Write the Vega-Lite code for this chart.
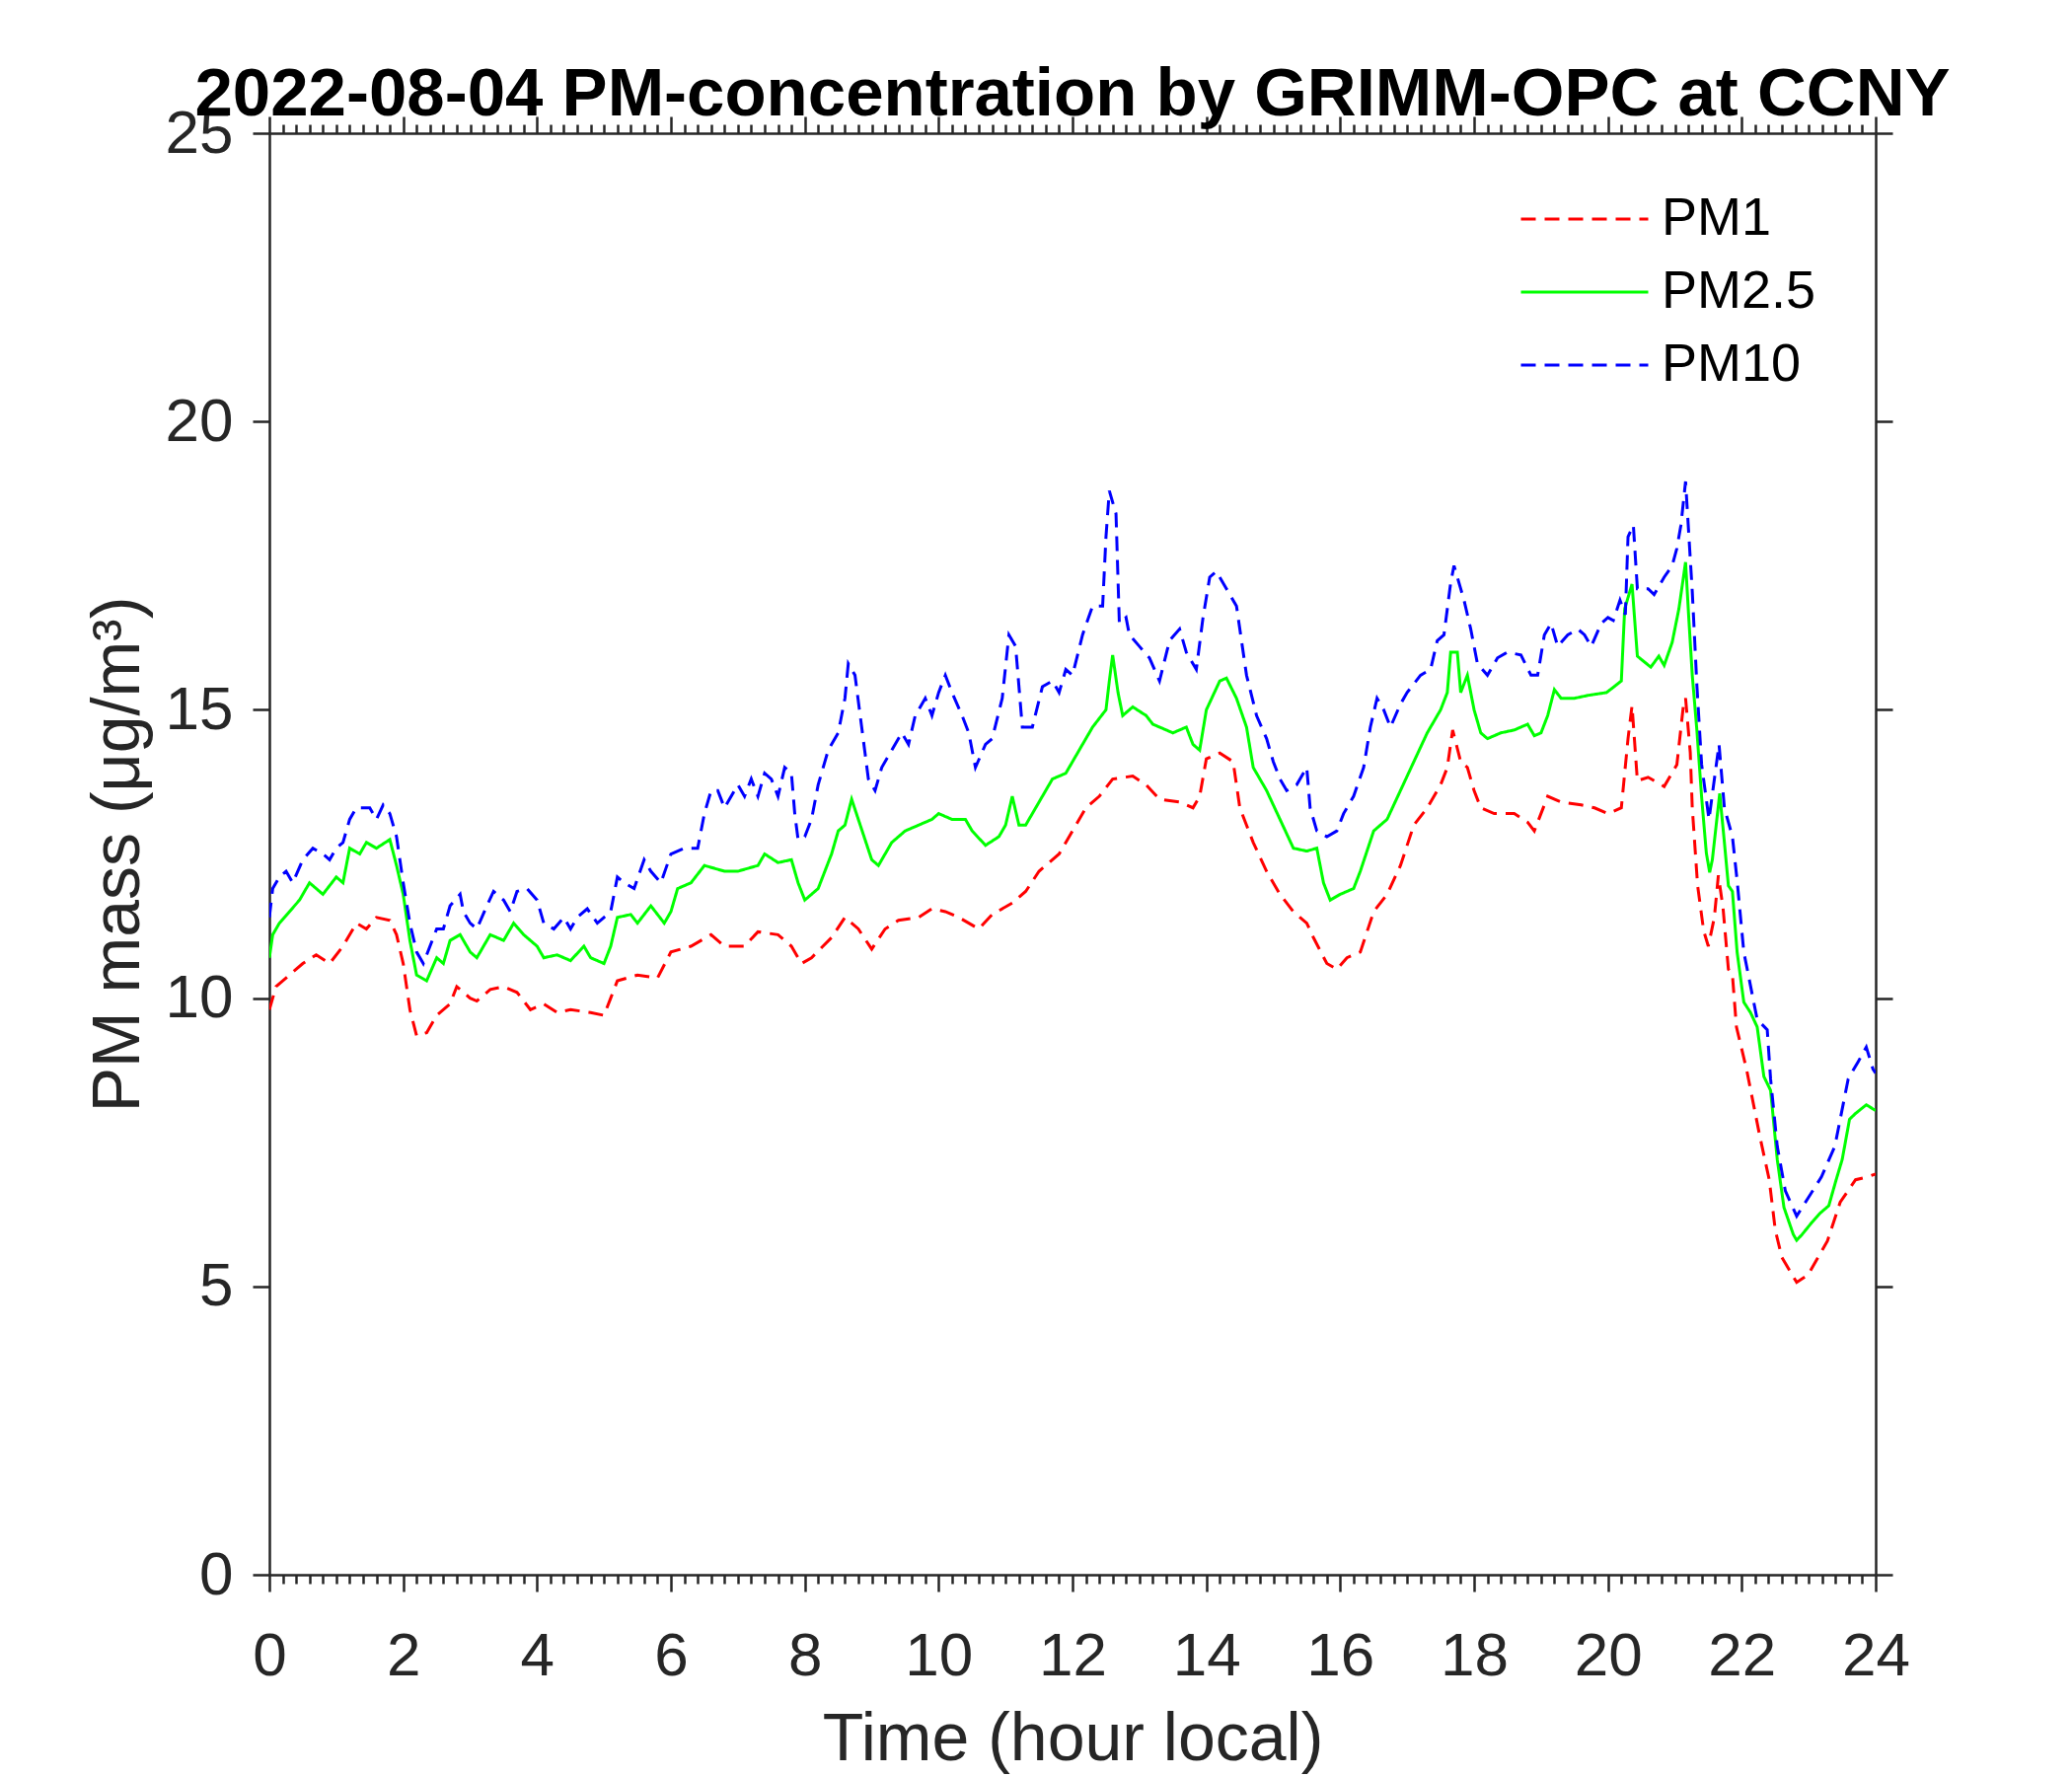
{
  "$schema": "https://vega.github.io/schema/vega-lite/v6.json",
  "width": 1628,
  "height": 1461,
  "autosize": {"type": "none"},
  "padding": {"left": 273, "top": 135, "right": 199, "bottom": 204},
  "background": "white",
  "title": {
    "text": "2022-08-04 PM-concentration by GRIMM-OPC at CCNY",
    "font": "Liberation Sans",
    "fontSize": 69,
    "fontWeight": "bold",
    "color": "black",
    "anchor": "middle",
    "frame": "group",
    "baseline": "alphabetic",
    "offset": -82
  },
  "config": {
    "font": "Liberation Sans",
    "view": {"stroke": null},
    "axis": {
      "grid": false,
      "domainColor": "#262626",
      "domainWidth": 2.5,
      "tickColor": "#262626",
      "tickWidth": 2.5,
      "labelColor": "#262626",
      "labelFont": "Liberation Sans",
      "labelFontSize": 62,
      "titleFont": "Liberation Sans",
      "titleFontSize": 68,
      "titleFontWeight": "normal",
      "titleColor": "#262626",
      "labelFlush": false,
      "labelOverlap": false
    }
  },
  "data": {
    "values": [
      {"t":0,"v":9.8,"s":"PM1"},{"t":0.1,"v":10.2,"s":"PM1"},{"t":0.3,"v":10.4,"s":"PM1"},{"t":0.5,"v":10.6,"s":"PM1"},{"t":0.7,"v":10.75,"s":"PM1"},{"t":0.9,"v":10.6,"s":"PM1"},{"t":1.1,"v":10.9,"s":"PM1"},{"t":1.3,"v":11.3,"s":"PM1"},{"t":1.45,"v":11.2,"s":"PM1"},{"t":1.6,"v":11.4,"s":"PM1"},{"t":1.8,"v":11.35,"s":"PM1"},{"t":1.9,"v":11.1,"s":"PM1"},{"t":2.0,"v":10.6,"s":"PM1"},{"t":2.1,"v":9.8,"s":"PM1"},{"t":2.2,"v":9.35,"s":"PM1"},{"t":2.35,"v":9.4,"s":"PM1"},{"t":2.5,"v":9.7,"s":"PM1"},{"t":2.7,"v":9.9,"s":"PM1"},{"t":2.8,"v":10.2,"s":"PM1"},{"t":3.0,"v":10.0,"s":"PM1"},{"t":3.1,"v":9.95,"s":"PM1"},{"t":3.3,"v":10.15,"s":"PM1"},{"t":3.5,"v":10.2,"s":"PM1"},{"t":3.7,"v":10.1,"s":"PM1"},{"t":3.9,"v":9.8,"s":"PM1"},{"t":4.1,"v":9.9,"s":"PM1"},{"t":4.3,"v":9.75,"s":"PM1"},{"t":4.5,"v":9.8,"s":"PM1"},{"t":4.8,"v":9.75,"s":"PM1"},{"t":5.0,"v":9.7,"s":"PM1"},{"t":5.1,"v":10.0,"s":"PM1"},{"t":5.2,"v":10.3,"s":"PM1"},{"t":5.5,"v":10.4,"s":"PM1"},{"t":5.8,"v":10.35,"s":"PM1"},{"t":6.0,"v":10.8,"s":"PM1"},{"t":6.3,"v":10.9,"s":"PM1"},{"t":6.6,"v":11.1,"s":"PM1"},{"t":6.8,"v":10.9,"s":"PM1"},{"t":7.1,"v":10.9,"s":"PM1"},{"t":7.3,"v":11.15,"s":"PM1"},{"t":7.6,"v":11.1,"s":"PM1"},{"t":7.8,"v":10.9,"s":"PM1"},{"t":7.95,"v":10.6,"s":"PM1"},{"t":8.1,"v":10.7,"s":"PM1"},{"t":8.4,"v":11.05,"s":"PM1"},{"t":8.6,"v":11.4,"s":"PM1"},{"t":8.8,"v":11.2,"s":"PM1"},{"t":9.0,"v":10.85,"s":"PM1"},{"t":9.2,"v":11.2,"s":"PM1"},{"t":9.4,"v":11.35,"s":"PM1"},{"t":9.7,"v":11.4,"s":"PM1"},{"t":9.9,"v":11.55,"s":"PM1"},{"t":10.1,"v":11.5,"s":"PM1"},{"t":10.3,"v":11.4,"s":"PM1"},{"t":10.6,"v":11.2,"s":"PM1"},{"t":10.8,"v":11.45,"s":"PM1"},{"t":11.1,"v":11.65,"s":"PM1"},{"t":11.3,"v":11.85,"s":"PM1"},{"t":11.5,"v":12.2,"s":"PM1"},{"t":11.8,"v":12.5,"s":"PM1"},{"t":12.0,"v":12.9,"s":"PM1"},{"t":12.2,"v":13.3,"s":"PM1"},{"t":12.4,"v":13.5,"s":"PM1"},{"t":12.6,"v":13.8,"s":"PM1"},{"t":12.9,"v":13.85,"s":"PM1"},{"t":13.1,"v":13.7,"s":"PM1"},{"t":13.3,"v":13.45,"s":"PM1"},{"t":13.6,"v":13.4,"s":"PM1"},{"t":13.8,"v":13.3,"s":"PM1"},{"t":13.9,"v":13.5,"s":"PM1"},{"t":14.0,"v":14.15,"s":"PM1"},{"t":14.2,"v":14.25,"s":"PM1"},{"t":14.4,"v":14.1,"s":"PM1"},{"t":14.5,"v":13.3,"s":"PM1"},{"t":14.7,"v":12.7,"s":"PM1"},{"t":14.9,"v":12.2,"s":"PM1"},{"t":15.1,"v":11.8,"s":"PM1"},{"t":15.3,"v":11.5,"s":"PM1"},{"t":15.5,"v":11.3,"s":"PM1"},{"t":15.6,"v":11.05,"s":"PM1"},{"t":15.8,"v":10.6,"s":"PM1"},{"t":15.95,"v":10.5,"s":"PM1"},{"t":16.1,"v":10.7,"s":"PM1"},{"t":16.3,"v":10.8,"s":"PM1"},{"t":16.5,"v":11.5,"s":"PM1"},{"t":16.7,"v":11.8,"s":"PM1"},{"t":16.9,"v":12.3,"s":"PM1"},{"t":17.1,"v":13.0,"s":"PM1"},{"t":17.3,"v":13.3,"s":"PM1"},{"t":17.5,"v":13.7,"s":"PM1"},{"t":17.6,"v":14.0,"s":"PM1"},{"t":17.68,"v":14.65,"s":"PM1"},{"t":17.8,"v":14.1,"s":"PM1"},{"t":17.9,"v":14.0,"s":"PM1"},{"t":18.0,"v":13.6,"s":"PM1"},{"t":18.1,"v":13.3,"s":"PM1"},{"t":18.3,"v":13.2,"s":"PM1"},{"t":18.6,"v":13.2,"s":"PM1"},{"t":18.8,"v":13.05,"s":"PM1"},{"t":18.9,"v":12.9,"s":"PM1"},{"t":19.1,"v":13.5,"s":"PM1"},{"t":19.3,"v":13.4,"s":"PM1"},{"t":19.6,"v":13.35,"s":"PM1"},{"t":19.8,"v":13.3,"s":"PM1"},{"t":20.0,"v":13.2,"s":"PM1"},{"t":20.2,"v":13.3,"s":"PM1"},{"t":20.3,"v":14.5,"s":"PM1"},{"t":20.36,"v":15.07,"s":"PM1"},{"t":20.44,"v":13.77,"s":"PM1"},{"t":20.6,"v":13.83,"s":"PM1"},{"t":20.84,"v":13.67,"s":"PM1"},{"t":21.03,"v":14.05,"s":"PM1"},{"t":21.13,"v":15.1,"s":"PM1"},{"t":21.16,"v":15.2,"s":"PM1"},{"t":21.23,"v":14.26,"s":"PM1"},{"t":21.26,"v":13.3,"s":"PM1"},{"t":21.34,"v":11.95,"s":"PM1"},{"t":21.43,"v":11.17,"s":"PM1"},{"t":21.5,"v":10.9,"s":"PM1"},{"t":21.59,"v":11.4,"s":"PM1"},{"t":21.65,"v":12.13,"s":"PM1"},{"t":21.72,"v":11.56,"s":"PM1"},{"t":21.8,"v":10.5,"s":"PM1"},{"t":21.86,"v":10.4,"s":"PM1"},{"t":21.92,"v":9.5,"s":"PM1"},{"t":22.07,"v":8.77,"s":"PM1"},{"t":22.27,"v":7.6,"s":"PM1"},{"t":22.41,"v":6.85,"s":"PM1"},{"t":22.5,"v":5.98,"s":"PM1"},{"t":22.6,"v":5.5,"s":"PM1"},{"t":22.82,"v":5.07,"s":"PM1"},{"t":22.99,"v":5.2,"s":"PM1"},{"t":23.28,"v":5.79,"s":"PM1"},{"t":23.47,"v":6.46,"s":"PM1"},{"t":23.7,"v":6.85,"s":"PM1"},{"t":23.88,"v":6.9,"s":"PM1"},{"t":24.0,"v":6.95,"s":"PM1"},

      {"t":0,"v":10.7,"s":"PM2.5"},{"t":0.05,"v":11.1,"s":"PM2.5"},{"t":0.15,"v":11.3,"s":"PM2.5"},{"t":0.3,"v":11.5,"s":"PM2.5"},{"t":0.45,"v":11.7,"s":"PM2.5"},{"t":0.6,"v":12.0,"s":"PM2.5"},{"t":0.8,"v":11.8,"s":"PM2.5"},{"t":1.0,"v":12.1,"s":"PM2.5"},{"t":1.1,"v":12.0,"s":"PM2.5"},{"t":1.2,"v":12.6,"s":"PM2.5"},{"t":1.35,"v":12.5,"s":"PM2.5"},{"t":1.45,"v":12.7,"s":"PM2.5"},{"t":1.6,"v":12.6,"s":"PM2.5"},{"t":1.8,"v":12.75,"s":"PM2.5"},{"t":1.9,"v":12.3,"s":"PM2.5"},{"t":2.0,"v":11.8,"s":"PM2.5"},{"t":2.1,"v":11.0,"s":"PM2.5"},{"t":2.2,"v":10.4,"s":"PM2.5"},{"t":2.35,"v":10.3,"s":"PM2.5"},{"t":2.5,"v":10.7,"s":"PM2.5"},{"t":2.6,"v":10.6,"s":"PM2.5"},{"t":2.7,"v":11.0,"s":"PM2.5"},{"t":2.85,"v":11.1,"s":"PM2.5"},{"t":3.0,"v":10.8,"s":"PM2.5"},{"t":3.1,"v":10.7,"s":"PM2.5"},{"t":3.3,"v":11.1,"s":"PM2.5"},{"t":3.5,"v":11.0,"s":"PM2.5"},{"t":3.65,"v":11.3,"s":"PM2.5"},{"t":3.8,"v":11.1,"s":"PM2.5"},{"t":4.0,"v":10.9,"s":"PM2.5"},{"t":4.1,"v":10.7,"s":"PM2.5"},{"t":4.3,"v":10.75,"s":"PM2.5"},{"t":4.5,"v":10.65,"s":"PM2.5"},{"t":4.7,"v":10.9,"s":"PM2.5"},{"t":4.8,"v":10.7,"s":"PM2.5"},{"t":5.0,"v":10.6,"s":"PM2.5"},{"t":5.1,"v":10.9,"s":"PM2.5"},{"t":5.2,"v":11.4,"s":"PM2.5"},{"t":5.4,"v":11.45,"s":"PM2.5"},{"t":5.5,"v":11.3,"s":"PM2.5"},{"t":5.7,"v":11.6,"s":"PM2.5"},{"t":5.9,"v":11.3,"s":"PM2.5"},{"t":6.0,"v":11.5,"s":"PM2.5"},{"t":6.1,"v":11.9,"s":"PM2.5"},{"t":6.3,"v":12.0,"s":"PM2.5"},{"t":6.5,"v":12.3,"s":"PM2.5"},{"t":6.8,"v":12.2,"s":"PM2.5"},{"t":7.0,"v":12.2,"s":"PM2.5"},{"t":7.3,"v":12.3,"s":"PM2.5"},{"t":7.4,"v":12.5,"s":"PM2.5"},{"t":7.6,"v":12.35,"s":"PM2.5"},{"t":7.8,"v":12.4,"s":"PM2.5"},{"t":7.9,"v":12.0,"s":"PM2.5"},{"t":8.0,"v":11.7,"s":"PM2.5"},{"t":8.2,"v":11.9,"s":"PM2.5"},{"t":8.4,"v":12.5,"s":"PM2.5"},{"t":8.5,"v":12.9,"s":"PM2.5"},{"t":8.6,"v":13.0,"s":"PM2.5"},{"t":8.7,"v":13.45,"s":"PM2.5"},{"t":8.8,"v":13.1,"s":"PM2.5"},{"t":9.0,"v":12.4,"s":"PM2.5"},{"t":9.1,"v":12.3,"s":"PM2.5"},{"t":9.3,"v":12.7,"s":"PM2.5"},{"t":9.5,"v":12.9,"s":"PM2.5"},{"t":9.7,"v":13.0,"s":"PM2.5"},{"t":9.9,"v":13.1,"s":"PM2.5"},{"t":10.0,"v":13.2,"s":"PM2.5"},{"t":10.2,"v":13.1,"s":"PM2.5"},{"t":10.4,"v":13.1,"s":"PM2.5"},{"t":10.5,"v":12.9,"s":"PM2.5"},{"t":10.7,"v":12.65,"s":"PM2.5"},{"t":10.9,"v":12.8,"s":"PM2.5"},{"t":11.0,"v":13.0,"s":"PM2.5"},{"t":11.1,"v":13.5,"s":"PM2.5"},{"t":11.2,"v":13.0,"s":"PM2.5"},{"t":11.3,"v":13.0,"s":"PM2.5"},{"t":11.5,"v":13.4,"s":"PM2.5"},{"t":11.7,"v":13.8,"s":"PM2.5"},{"t":11.9,"v":13.9,"s":"PM2.5"},{"t":12.1,"v":14.3,"s":"PM2.5"},{"t":12.3,"v":14.7,"s":"PM2.5"},{"t":12.5,"v":15.0,"s":"PM2.5"},{"t":12.55,"v":15.5,"s":"PM2.5"},{"t":12.6,"v":15.95,"s":"PM2.5"},{"t":12.68,"v":15.3,"s":"PM2.5"},{"t":12.75,"v":14.9,"s":"PM2.5"},{"t":12.9,"v":15.05,"s":"PM2.5"},{"t":13.1,"v":14.9,"s":"PM2.5"},{"t":13.2,"v":14.75,"s":"PM2.5"},{"t":13.4,"v":14.65,"s":"PM2.5"},{"t":13.5,"v":14.6,"s":"PM2.5"},{"t":13.7,"v":14.7,"s":"PM2.5"},{"t":13.8,"v":14.4,"s":"PM2.5"},{"t":13.9,"v":14.3,"s":"PM2.5"},{"t":14.0,"v":15.0,"s":"PM2.5"},{"t":14.2,"v":15.5,"s":"PM2.5"},{"t":14.3,"v":15.55,"s":"PM2.5"},{"t":14.45,"v":15.2,"s":"PM2.5"},{"t":14.6,"v":14.7,"s":"PM2.5"},{"t":14.7,"v":14.0,"s":"PM2.5"},{"t":14.9,"v":13.6,"s":"PM2.5"},{"t":15.1,"v":13.1,"s":"PM2.5"},{"t":15.3,"v":12.6,"s":"PM2.5"},{"t":15.5,"v":12.55,"s":"PM2.5"},{"t":15.65,"v":12.6,"s":"PM2.5"},{"t":15.75,"v":12.0,"s":"PM2.5"},{"t":15.85,"v":11.7,"s":"PM2.5"},{"t":16.0,"v":11.8,"s":"PM2.5"},{"t":16.2,"v":11.9,"s":"PM2.5"},{"t":16.3,"v":12.2,"s":"PM2.5"},{"t":16.5,"v":12.9,"s":"PM2.5"},{"t":16.7,"v":13.1,"s":"PM2.5"},{"t":16.9,"v":13.6,"s":"PM2.5"},{"t":17.1,"v":14.1,"s":"PM2.5"},{"t":17.3,"v":14.6,"s":"PM2.5"},{"t":17.5,"v":15.0,"s":"PM2.5"},{"t":17.6,"v":15.3,"s":"PM2.5"},{"t":17.65,"v":16.0,"s":"PM2.5"},{"t":17.75,"v":16.0,"s":"PM2.5"},{"t":17.8,"v":15.3,"s":"PM2.5"},{"t":17.9,"v":15.6,"s":"PM2.5"},{"t":18.0,"v":15.0,"s":"PM2.5"},{"t":18.1,"v":14.6,"s":"PM2.5"},{"t":18.2,"v":14.5,"s":"PM2.5"},{"t":18.4,"v":14.6,"s":"PM2.5"},{"t":18.6,"v":14.65,"s":"PM2.5"},{"t":18.8,"v":14.75,"s":"PM2.5"},{"t":18.9,"v":14.55,"s":"PM2.5"},{"t":19.0,"v":14.6,"s":"PM2.5"},{"t":19.1,"v":14.9,"s":"PM2.5"},{"t":19.2,"v":15.35,"s":"PM2.5"},{"t":19.3,"v":15.2,"s":"PM2.5"},{"t":19.5,"v":15.2,"s":"PM2.5"},{"t":19.7,"v":15.25,"s":"PM2.5"},{"t":19.98,"v":15.3,"s":"PM2.5"},{"t":20.2,"v":15.5,"s":"PM2.5"},{"t":20.25,"v":16.75,"s":"PM2.5"},{"t":20.36,"v":17.18,"s":"PM2.5"},{"t":20.44,"v":15.93,"s":"PM2.5"},{"t":20.64,"v":15.74,"s":"PM2.5"},{"t":20.76,"v":15.93,"s":"PM2.5"},{"t":20.84,"v":15.77,"s":"PM2.5"},{"t":20.96,"v":16.17,"s":"PM2.5"},{"t":21.06,"v":16.75,"s":"PM2.5"},{"t":21.16,"v":17.56,"s":"PM2.5"},{"t":21.21,"v":16.55,"s":"PM2.5"},{"t":21.26,"v":15.6,"s":"PM2.5"},{"t":21.33,"v":14.63,"s":"PM2.5"},{"t":21.4,"v":13.48,"s":"PM2.5"},{"t":21.47,"v":12.52,"s":"PM2.5"},{"t":21.52,"v":12.18,"s":"PM2.5"},{"t":21.56,"v":12.4,"s":"PM2.5"},{"t":21.67,"v":13.55,"s":"PM2.5"},{"t":21.74,"v":12.7,"s":"PM2.5"},{"t":21.8,"v":11.95,"s":"PM2.5"},{"t":21.86,"v":11.85,"s":"PM2.5"},{"t":21.93,"v":10.8,"s":"PM2.5"},{"t":22.03,"v":9.93,"s":"PM2.5"},{"t":22.13,"v":9.75,"s":"PM2.5"},{"t":22.23,"v":9.5,"s":"PM2.5"},{"t":22.33,"v":8.64,"s":"PM2.5"},{"t":22.43,"v":8.4,"s":"PM2.5"},{"t":22.53,"v":7.2,"s":"PM2.5"},{"t":22.63,"v":6.37,"s":"PM2.5"},{"t":22.77,"v":5.9,"s":"PM2.5"},{"t":22.82,"v":5.8,"s":"PM2.5"},{"t":22.9,"v":5.9,"s":"PM2.5"},{"t":23.04,"v":6.1,"s":"PM2.5"},{"t":23.17,"v":6.27,"s":"PM2.5"},{"t":23.3,"v":6.4,"s":"PM2.5"},{"t":23.41,"v":6.85,"s":"PM2.5"},{"t":23.5,"v":7.2,"s":"PM2.5"},{"t":23.61,"v":7.9,"s":"PM2.5"},{"t":23.7,"v":8.0,"s":"PM2.5"},{"t":23.86,"v":8.15,"s":"PM2.5"},{"t":24.0,"v":8.05,"s":"PM2.5"},

      {"t":0,"v":11.4,"s":"PM10"},{"t":0.05,"v":11.9,"s":"PM10"},{"t":0.15,"v":12.1,"s":"PM10"},{"t":0.25,"v":12.2,"s":"PM10"},{"t":0.35,"v":12.0,"s":"PM10"},{"t":0.5,"v":12.4,"s":"PM10"},{"t":0.65,"v":12.6,"s":"PM10"},{"t":0.8,"v":12.5,"s":"PM10"},{"t":0.9,"v":12.4,"s":"PM10"},{"t":1.0,"v":12.6,"s":"PM10"},{"t":1.1,"v":12.7,"s":"PM10"},{"t":1.2,"v":13.1,"s":"PM10"},{"t":1.3,"v":13.3,"s":"PM10"},{"t":1.5,"v":13.3,"s":"PM10"},{"t":1.6,"v":13.1,"s":"PM10"},{"t":1.7,"v":13.35,"s":"PM10"},{"t":1.8,"v":13.2,"s":"PM10"},{"t":1.9,"v":12.8,"s":"PM10"},{"t":2.0,"v":12.0,"s":"PM10"},{"t":2.1,"v":11.3,"s":"PM10"},{"t":2.2,"v":10.8,"s":"PM10"},{"t":2.3,"v":10.6,"s":"PM10"},{"t":2.4,"v":10.9,"s":"PM10"},{"t":2.5,"v":11.2,"s":"PM10"},{"t":2.6,"v":11.2,"s":"PM10"},{"t":2.7,"v":11.6,"s":"PM10"},{"t":2.85,"v":11.8,"s":"PM10"},{"t":2.9,"v":11.5,"s":"PM10"},{"t":3.0,"v":11.3,"s":"PM10"},{"t":3.1,"v":11.2,"s":"PM10"},{"t":3.25,"v":11.6,"s":"PM10"},{"t":3.35,"v":11.85,"s":"PM10"},{"t":3.5,"v":11.7,"s":"PM10"},{"t":3.6,"v":11.5,"s":"PM10"},{"t":3.7,"v":11.85,"s":"PM10"},{"t":3.85,"v":11.9,"s":"PM10"},{"t":4.0,"v":11.7,"s":"PM10"},{"t":4.1,"v":11.3,"s":"PM10"},{"t":4.25,"v":11.2,"s":"PM10"},{"t":4.4,"v":11.4,"s":"PM10"},{"t":4.5,"v":11.2,"s":"PM10"},{"t":4.6,"v":11.4,"s":"PM10"},{"t":4.75,"v":11.55,"s":"PM10"},{"t":4.9,"v":11.3,"s":"PM10"},{"t":5.0,"v":11.4,"s":"PM10"},{"t":5.1,"v":11.5,"s":"PM10"},{"t":5.2,"v":12.1,"s":"PM10"},{"t":5.3,"v":12.0,"s":"PM10"},{"t":5.45,"v":11.9,"s":"PM10"},{"t":5.6,"v":12.4,"s":"PM10"},{"t":5.7,"v":12.2,"s":"PM10"},{"t":5.85,"v":12.0,"s":"PM10"},{"t":6.0,"v":12.5,"s":"PM10"},{"t":6.2,"v":12.6,"s":"PM10"},{"t":6.4,"v":12.6,"s":"PM10"},{"t":6.5,"v":13.2,"s":"PM10"},{"t":6.6,"v":13.6,"s":"PM10"},{"t":6.7,"v":13.6,"s":"PM10"},{"t":6.8,"v":13.3,"s":"PM10"},{"t":7.0,"v":13.7,"s":"PM10"},{"t":7.1,"v":13.5,"s":"PM10"},{"t":7.2,"v":13.8,"s":"PM10"},{"t":7.3,"v":13.5,"s":"PM10"},{"t":7.4,"v":13.9,"s":"PM10"},{"t":7.5,"v":13.8,"s":"PM10"},{"t":7.6,"v":13.5,"s":"PM10"},{"t":7.7,"v":14.0,"s":"PM10"},{"t":7.8,"v":13.9,"s":"PM10"},{"t":7.85,"v":13.2,"s":"PM10"},{"t":7.9,"v":12.75,"s":"PM10"},{"t":8.0,"v":12.8,"s":"PM10"},{"t":8.1,"v":13.1,"s":"PM10"},{"t":8.2,"v":13.7,"s":"PM10"},{"t":8.35,"v":14.3,"s":"PM10"},{"t":8.5,"v":14.6,"s":"PM10"},{"t":8.6,"v":15.2,"s":"PM10"},{"t":8.65,"v":15.8,"s":"PM10"},{"t":8.75,"v":15.6,"s":"PM10"},{"t":8.85,"v":14.7,"s":"PM10"},{"t":8.95,"v":13.8,"s":"PM10"},{"t":9.05,"v":13.6,"s":"PM10"},{"t":9.15,"v":14.0,"s":"PM10"},{"t":9.3,"v":14.3,"s":"PM10"},{"t":9.45,"v":14.6,"s":"PM10"},{"t":9.55,"v":14.4,"s":"PM10"},{"t":9.65,"v":14.9,"s":"PM10"},{"t":9.8,"v":15.2,"s":"PM10"},{"t":9.9,"v":14.9,"s":"PM10"},{"t":10.0,"v":15.3,"s":"PM10"},{"t":10.1,"v":15.6,"s":"PM10"},{"t":10.2,"v":15.3,"s":"PM10"},{"t":10.35,"v":14.9,"s":"PM10"},{"t":10.45,"v":14.6,"s":"PM10"},{"t":10.55,"v":14.0,"s":"PM10"},{"t":10.7,"v":14.4,"s":"PM10"},{"t":10.8,"v":14.5,"s":"PM10"},{"t":10.95,"v":15.2,"s":"PM10"},{"t":11.05,"v":16.3,"s":"PM10"},{"t":11.15,"v":16.1,"s":"PM10"},{"t":11.25,"v":14.7,"s":"PM10"},{"t":11.4,"v":14.7,"s":"PM10"},{"t":11.55,"v":15.4,"s":"PM10"},{"t":11.7,"v":15.5,"s":"PM10"},{"t":11.8,"v":15.3,"s":"PM10"},{"t":11.9,"v":15.7,"s":"PM10"},{"t":12.0,"v":15.6,"s":"PM10"},{"t":12.15,"v":16.3,"s":"PM10"},{"t":12.3,"v":16.8,"s":"PM10"},{"t":12.45,"v":16.8,"s":"PM10"},{"t":12.5,"v":18.0,"s":"PM10"},{"t":12.55,"v":18.8,"s":"PM10"},{"t":12.65,"v":18.4,"s":"PM10"},{"t":12.7,"v":16.5,"s":"PM10"},{"t":12.8,"v":16.6,"s":"PM10"},{"t":12.85,"v":16.3,"s":"PM10"},{"t":13.0,"v":16.1,"s":"PM10"},{"t":13.15,"v":15.9,"s":"PM10"},{"t":13.3,"v":15.5,"s":"PM10"},{"t":13.45,"v":16.2,"s":"PM10"},{"t":13.6,"v":16.4,"s":"PM10"},{"t":13.7,"v":16.0,"s":"PM10"},{"t":13.85,"v":15.7,"s":"PM10"},{"t":13.95,"v":16.6,"s":"PM10"},{"t":14.05,"v":17.3,"s":"PM10"},{"t":14.15,"v":17.4,"s":"PM10"},{"t":14.3,"v":17.1,"s":"PM10"},{"t":14.45,"v":16.8,"s":"PM10"},{"t":14.6,"v":15.6,"s":"PM10"},{"t":14.75,"v":14.9,"s":"PM10"},{"t":14.9,"v":14.5,"s":"PM10"},{"t":15.0,"v":14.1,"s":"PM10"},{"t":15.1,"v":13.8,"s":"PM10"},{"t":15.2,"v":13.6,"s":"PM10"},{"t":15.35,"v":13.7,"s":"PM10"},{"t":15.5,"v":14.0,"s":"PM10"},{"t":15.55,"v":13.3,"s":"PM10"},{"t":15.65,"v":12.9,"s":"PM10"},{"t":15.8,"v":12.8,"s":"PM10"},{"t":15.95,"v":12.9,"s":"PM10"},{"t":16.05,"v":13.2,"s":"PM10"},{"t":16.2,"v":13.5,"s":"PM10"},{"t":16.35,"v":14.0,"s":"PM10"},{"t":16.45,"v":14.7,"s":"PM10"},{"t":16.55,"v":15.2,"s":"PM10"},{"t":16.65,"v":15.0,"s":"PM10"},{"t":16.75,"v":14.7,"s":"PM10"},{"t":16.9,"v":15.1,"s":"PM10"},{"t":17.0,"v":15.3,"s":"PM10"},{"t":17.2,"v":15.6,"s":"PM10"},{"t":17.35,"v":15.7,"s":"PM10"},{"t":17.45,"v":16.2,"s":"PM10"},{"t":17.55,"v":16.3,"s":"PM10"},{"t":17.65,"v":17.2,"s":"PM10"},{"t":17.7,"v":17.5,"s":"PM10"},{"t":17.8,"v":17.1,"s":"PM10"},{"t":17.85,"v":16.9,"s":"PM10"},{"t":17.95,"v":16.4,"s":"PM10"},{"t":18.05,"v":15.8,"s":"PM10"},{"t":18.2,"v":15.6,"s":"PM10"},{"t":18.35,"v":15.9,"s":"PM10"},{"t":18.5,"v":16.0,"s":"PM10"},{"t":18.7,"v":15.95,"s":"PM10"},{"t":18.85,"v":15.6,"s":"PM10"},{"t":18.95,"v":15.6,"s":"PM10"},{"t":19.05,"v":16.3,"s":"PM10"},{"t":19.15,"v":16.5,"s":"PM10"},{"t":19.25,"v":16.1,"s":"PM10"},{"t":19.4,"v":16.3,"s":"PM10"},{"t":19.55,"v":16.4,"s":"PM10"},{"t":19.65,"v":16.3,"s":"PM10"},{"t":19.75,"v":16.1,"s":"PM10"},{"t":19.9,"v":16.5,"s":"PM10"},{"t":20.0,"v":16.6,"s":"PM10"},{"t":20.08,"v":16.55,"s":"PM10"},{"t":20.18,"v":16.9,"s":"PM10"},{"t":20.26,"v":16.65,"s":"PM10"},{"t":20.3,"v":18.0,"s":"PM10"},{"t":20.38,"v":18.2,"s":"PM10"},{"t":20.44,"v":17.1,"s":"PM10"},{"t":20.6,"v":17.1,"s":"PM10"},{"t":20.69,"v":17.0,"s":"PM10"},{"t":20.84,"v":17.3,"s":"PM10"},{"t":20.96,"v":17.5,"s":"PM10"},{"t":21.03,"v":17.8,"s":"PM10"},{"t":21.09,"v":18.2,"s":"PM10"},{"t":21.16,"v":18.96,"s":"PM10"},{"t":21.26,"v":17.05,"s":"PM10"},{"t":21.33,"v":15.4,"s":"PM10"},{"t":21.4,"v":14.05,"s":"PM10"},{"t":21.51,"v":13.1,"s":"PM10"},{"t":21.66,"v":14.4,"s":"PM10"},{"t":21.74,"v":13.3,"s":"PM10"},{"t":21.86,"v":12.8,"s":"PM10"},{"t":21.93,"v":12.04,"s":"PM10"},{"t":22.03,"v":10.8,"s":"PM10"},{"t":22.23,"v":9.63,"s":"PM10"},{"t":22.38,"v":9.45,"s":"PM10"},{"t":22.43,"v":8.6,"s":"PM10"},{"t":22.53,"v":7.43,"s":"PM10"},{"t":22.65,"v":6.66,"s":"PM10"},{"t":22.82,"v":6.22,"s":"PM10"},{"t":23.0,"v":6.55,"s":"PM10"},{"t":23.19,"v":6.9,"s":"PM10"},{"t":23.39,"v":7.43,"s":"PM10"},{"t":23.59,"v":8.6,"s":"PM10"},{"t":23.74,"v":8.9,"s":"PM10"},{"t":23.86,"v":9.15,"s":"PM10"},{"t":23.96,"v":8.77,"s":"PM10"},{"t":24.0,"v":8.7,"s":"PM10"}
    ]
  },
  "layer": [
    {
      "mark": {"type": "line", "strokeWidth": 3, "clip": true},
      "encoding": {
        "x": {
          "field": "t", "type": "quantitative",
          "scale": {"domain": [0, 24], "nice": false, "zero": false},
          "axis": {
            "orient": "bottom",
            "values": [0,2,4,6,8,10,12,14,16,18,20,22,24],
            "tickSize": 17,
            "labelPadding": 35,
            "title": "Time (hour local)",
            "titlePadding": 20
          }
        },
        "y": {
          "field": "v", "type": "quantitative",
          "scale": {"domain": [0, 25], "nice": false},
          "axis": {
            "orient": "left",
            "values": [0,5,10,15,20,25],
            "tickSize": 17,
            "labelPadding": 20,
            "title": "PM mass (μg/m³)",
            "titlePadding": 13
          }
        },
        "color": {
          "field": "s", "type": "nominal",
          "scale": {"domain": ["PM1", "PM2.5", "PM10"], "range": ["#ff0000", "#00ff00", "#0000ff"]},
          "legend": {
            "orient": "none", "legendX": 1306, "legendY": 60, "title": null,
            "symbolType": "M-3,0H3", "symbolSize": 1849, "symbolStrokeWidth": 3,
            "symbolOffset": 0, "labelOffset": 51, "labelFontSize": 54,
            "labelFont": "Liberation Sans", "labelColor": "black", "rowPadding": 20, "padding": 0
          }
        },
        "strokeDash": {
          "field": "s", "type": "nominal",
          "scale": {"domain": ["PM1", "PM2.5", "PM10"], "range": [[15, 9], [1, 0], [15, 9]]},
          "legend": {
            "orient": "none", "legendX": 1306, "legendY": 60, "title": null,
            "symbolType": "M-3,0H3", "symbolSize": 1849, "symbolStrokeWidth": 3,
            "symbolOffset": 0, "labelOffset": 51, "labelFontSize": 54,
            "labelFont": "Liberation Sans", "labelColor": "black", "rowPadding": 20, "padding": 0
          }
        }
      }
    },
    {
      "mark": {"type": "point", "opacity": 0},
      "encoding": {
        "x": {
          "field": "t", "type": "quantitative",
          "axis": {"orient": "top", "values": [0,2,4,6,8,10,12,14,16,18,20,22,24], "tickSize": 17, "labels": false, "title": null}
        },
        "y": {
          "field": "v", "type": "quantitative",
          "axis": {"orient": "right", "values": [0,5,10,15,20,25], "tickSize": 17, "labels": false, "title": null}
        }
      }
    },
    {
      "mark": {"type": "point", "opacity": 0},
      "encoding": {
        "x": {
          "field": "t", "type": "quantitative",
          "axis": {"orient": "bottom", "domain": false, "tickSize": 9, "labels": false, "title": null,
            "values": [0.2,0.4,0.6,0.8,1,1.2,1.4,1.6,1.8,2.2,2.4,2.6,2.8,3,3.2,3.4,3.6,3.8,4.2,4.4,4.6,4.8,5,5.2,5.4,5.6,5.8,6.2,6.4,6.6,6.8,7,7.2,7.4,7.6,7.8,8.2,8.4,8.6,8.8,9,9.2,9.4,9.6,9.8,10.2,10.4,10.6,10.8,11,11.2,11.4,11.6,11.8,12.2,12.4,12.6,12.8,13,13.2,13.4,13.6,13.8,14.2,14.4,14.6,14.8,15,15.2,15.4,15.6,15.8,16.2,16.4,16.6,16.8,17,17.2,17.4,17.6,17.8,18.2,18.4,18.6,18.8,19,19.2,19.4,19.6,19.8,20.2,20.4,20.6,20.8,21,21.2,21.4,21.6,21.8,22.2,22.4,22.6,22.8,23,23.2,23.4,23.6,23.8]}
        },
        "y": {"field": "v", "type": "quantitative", "axis": null}
      }
    },
    {
      "mark": {"type": "point", "opacity": 0},
      "encoding": {
        "x": {
          "field": "t", "type": "quantitative",
          "axis": {"orient": "top", "domain": false, "tickSize": 9, "labels": false, "title": null,
            "values": [0.2,0.4,0.6,0.8,1,1.2,1.4,1.6,1.8,2.2,2.4,2.6,2.8,3,3.2,3.4,3.6,3.8,4.2,4.4,4.6,4.8,5,5.2,5.4,5.6,5.8,6.2,6.4,6.6,6.8,7,7.2,7.4,7.6,7.8,8.2,8.4,8.6,8.8,9,9.2,9.4,9.6,9.8,10.2,10.4,10.6,10.8,11,11.2,11.4,11.6,11.8,12.2,12.4,12.6,12.8,13,13.2,13.4,13.6,13.8,14.2,14.4,14.6,14.8,15,15.2,15.4,15.6,15.8,16.2,16.4,16.6,16.8,17,17.2,17.4,17.6,17.8,18.2,18.4,18.6,18.8,19,19.2,19.4,19.6,19.8,20.2,20.4,20.6,20.8,21,21.2,21.4,21.6,21.8,22.2,22.4,22.6,22.8,23,23.2,23.4,23.6,23.8]}
        },
        "y": {"field": "v", "type": "quantitative", "axis": null}
      }
    }
  ],
  "resolve": {"axis": {"x": "independent", "y": "independent"}}
}
